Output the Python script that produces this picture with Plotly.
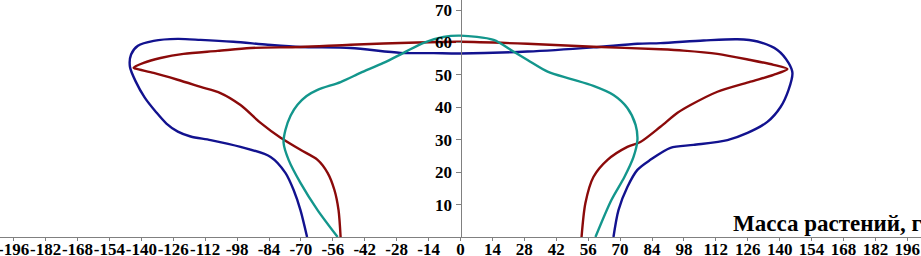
import plotly.graph_objects as go

# Blue curve (x, y), traced from left bottom over the top to right bottom
blue_x = [-67.3, -70.2, -73.2, -76.8, -83.3, -96.5, -109.6, -118.4, -124.0, -129.0, -133.5, -138.5, -142.5,
          -145.0, -144.5, -141.5, -134.6, -124.1, -114.0, -99.6, -84.6, -70.2, -48.2, -26.3, -11.8, 0.0,
          29.4, 58.3, 77.6, 87.7, 106.6, 121.5, 130.3, 139.0, 143.9, 145.6, 143.9, 140.4, 134.6, 125.9,
          117.1, 102.2, 92.1, 83.3, 77.6, 73.2, 69.3, 67.1]
blue_y = [0.0, 8.3, 14.5, 19.8, 24.7, 27.8, 29.9, 31.0, 32.5, 35.0, 38.5, 43.0, 48.0,
          52.5, 56.3, 59.0, 60.5, 61.1, 60.8, 60.2, 59.3, 58.6, 58.3, 56.8, 56.7, 56.6,
          57.2, 58.5, 59.6, 59.8, 60.6, 61.0, 60.3, 57.7, 53.7, 50.6, 45.4, 40.1, 35.5, 32.1,
          29.9, 28.4, 27.5, 23.8, 20.7, 15.4, 8.3, 0.0]

# Dark red curve
red_x = [-52.6, -53.5, -55.3, -58.3, -62.7, -70.2, -78.9, -87.7, -96.5, -105.3, -114.0, -124.1,
         -134.6, -142.5, -143.4, -139.0, -131.6, -121.5, -106.6, -92.1, -70.2, -48.2, -18.9, 0.0,
         29.4, 58.3, 87.7, 97.8, 112.7, 127.2, 137.3, 143.4, 137.3, 127.2, 112.7, 100.9, 95.2,
         87.7, 78.9, 73.2, 64.5, 58.3, 54.8, 53.1]
red_y = [0.0, 8.3, 14.5, 19.8, 23.8, 26.9, 30.6, 35.2, 40.7, 44.4, 46.3, 48.5,
         50.6, 51.9, 52.2, 53.7, 55.2, 56.5, 57.4, 58.3, 58.6, 59.3, 60.0, 60.2,
         59.6, 58.7, 57.9, 57.5, 56.5, 54.6, 53.1, 51.8, 50.0, 47.9, 44.8, 40.7, 38.3,
         34.0, 29.3, 27.8, 23.8, 18.5, 10.5, 0.0]

# Teal curve
teal_x = [-53.9, -62.7, -70.2, -75.4, -77.6, -76.8, -74.5, -71.5, -67.5, -62.7, -52.6, -43.9, -33.8,
          -25.0, -16.2, -7.5, 0.0, 14.5, 23.2, 29.4, 38.2, 48.2, 58.3, 67.1, 73.2, 76.8, 77.6,
          75.9, 71.9, 66.2, 59.2]
teal_y = [0.0, 8.3, 16.7, 23.8, 29.0, 33.0, 37.5, 40.8, 43.5, 45.4, 47.8, 50.6, 53.7,
          56.8, 59.9, 61.7, 62.1, 60.8, 57.2, 54.6, 51.0, 48.8, 46.6, 43.8, 39.8, 34.6, 29.9,
          24.7, 18.5, 11.4, 0.0]

x_ticks = list(range(-196, 197, 14))
y_ticks = [10, 20, 30, 40, 50, 60, 70]
x_title = "Масса растений, г"

SERIF = "Liberation Serif, Times New Roman, DejaVu Serif, serif"

fig = go.Figure()
for xs, ys, col in [(blue_x, blue_y, "#12128f"), (red_x, red_y, "#8b0a0a"), (teal_x, teal_y, "#13968c")]:
    fig.add_trace(go.Scatter(x=xs, y=ys, mode="lines",
                             line=dict(color=col, width=2.4, shape="spline", smoothing=0.8),
                             showlegend=False, hoverinfo="skip"))

font_tick = dict(family=SERIF, size=17, color="black", weight="bold")

fig.update_layout(
    width=921, height=256,
    margin=dict(l=0, r=0, t=0, b=19, autoexpand=False),
    paper_bgcolor="white", plot_bgcolor="white",
    xaxis=dict(range=[-202, 202], tickvals=x_ticks, ticktext=[str(v) for v in x_ticks],
               tickangle=0, automargin=False, ticklabeloverflow="allow", ticklabelstandoff=-6,
               showgrid=False, zeroline=False, showline=True, linecolor="#808080", linewidth=1,
               ticks="outside", ticklen=3, tickcolor="#808080", tickfont=font_tick),
    yaxis=dict(range=[0, 73.1], tickvals=y_ticks, showgrid=False, zeroline=False,
               automargin=False,
               showline=True, linecolor="#808080", linewidth=1,
               anchor="free", position=0.5, ticks="outside", ticklen=5, tickcolor="#808080",
               tickfont=font_tick),
    annotations=[dict(text=x_title, xref="paper", yref="y", x=1.0, y=4.3, xanchor="right",
                      yanchor="middle", xshift=3, showarrow=False,
                      font=dict(family=SERIF, size=23, color="black", weight="bold"))],
)

fig.write_html("out.html", config={"displayModeBar": False},
               post_script="document.body.style.margin='0';document.body.style.overflow='hidden';")
